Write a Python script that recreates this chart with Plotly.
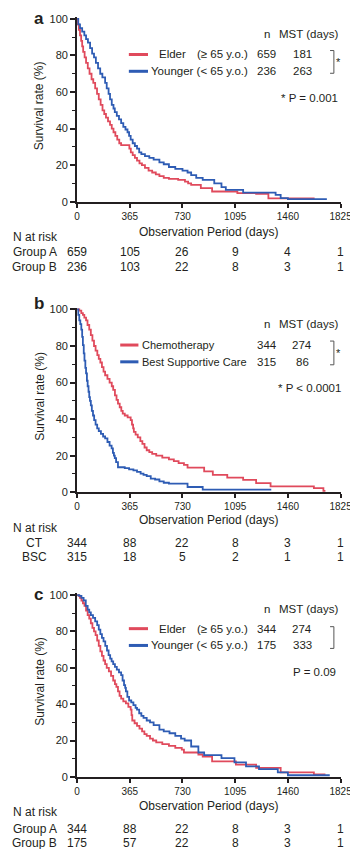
import plotly.graph_objects as go

# ---------------- data ----------------
x_ticks = [0, 365, 730, 1095, 1460, 1825]
y_ticks = [0, 20, 40, 60, 80, 100]

# Panel a
a_elder_days = [0, 5, 12, 20, 28, 35, 42, 52, 62, 74, 86, 100, 112, 125, 138, 150, 163, 176, 188, 200, 214, 228, 240, 252, 265, 278, 292, 305, 362, 372, 385, 400, 415, 432, 449, 470, 495, 520, 545, 570, 600, 636, 700, 747, 769, 790, 857, 935, 1110, 1240, 1325, 1645]
a_elder_surv = [100, 97, 94, 91, 88, 85, 82, 79, 76, 73, 70, 67, 65, 62, 59, 56, 53, 50, 48, 46, 44, 42, 40, 38, 36, 34, 32, 31, 29, 27, 25.5, 24, 22.5, 21, 20, 18.5, 17, 16, 15, 14, 13, 12.5, 12, 11, 10, 9.2, 7.4, 5.6, 4.7, 4.3, 1.8, 1.8]
a_young_days = [0, 8, 20, 35, 50, 62, 75, 90, 104, 117, 130, 145, 160, 175, 194, 205, 218, 228, 240, 252, 261, 275, 290, 305, 320, 335, 349, 360, 371, 385, 400, 415, 430, 445, 470, 500, 530, 570, 600, 636, 680, 730, 765, 790, 825, 870, 950, 1000, 1030, 1150, 1375, 1410, 1460, 1730]
a_young_surv = [100, 97, 95, 93, 91, 89, 87, 84, 81, 79, 76, 73, 70, 68, 65, 62, 59, 56, 53, 51, 49, 47, 45, 43, 41, 39.5, 38, 36, 34, 32, 30.5, 29, 27, 26, 25, 24, 23, 21.5, 20.5, 19, 18, 17, 16, 14.6, 13, 12, 10, 8, 6.5, 5, 3.8, 2, 1.4, 1.4]

# Panel b
b_chemo_days = [0, 15, 29, 40, 50, 62, 72, 84, 95, 106, 117, 128, 140, 150, 161, 172, 183, 194, 210, 225, 240, 250, 262, 273, 283, 295, 306, 316, 330, 350, 371, 380, 388, 393, 405, 420, 438, 452, 467, 482, 500, 520, 548, 590, 636, 670, 703, 740, 765, 880, 940, 1040, 1150, 1240, 1340, 1640, 1706, 1720]
b_chemo_surv = [100, 99.4, 98, 97, 95.5, 94, 91.5, 89, 86, 83, 80, 77.5, 75, 73, 71, 68.5, 66, 64, 62, 60, 58, 56, 53, 50.5, 48.5, 46.5, 44.5, 43, 42, 41, 39.5, 37, 35, 33, 31.5, 30, 28, 26.5, 24.5, 23, 22, 21, 20, 19, 18, 17, 16, 15, 13.5, 11.4, 9.5, 8, 6.8, 5, 3.2, 2.3, 0.8, 0.8]
b_bsc_days = [0, 8, 15, 22, 29, 35, 40, 46, 51, 57, 62, 68, 73, 79, 84, 89, 95, 102, 110, 118, 128, 139, 150, 165, 180, 194, 210, 225, 239, 248, 255, 261, 270, 283, 330, 360, 390, 415, 440, 460, 482, 510, 540, 570, 600, 636, 765, 870, 1345]
b_bsc_surv = [100, 97, 94, 92, 89, 85, 80.5, 76, 72, 68, 65, 61, 58, 55, 52, 50, 47.5, 44.5, 42, 39.5, 37, 35, 33.5, 32, 30.5, 29.5, 27.5, 25.5, 24, 21.5, 20, 18.7, 16.5, 13.7, 13.2, 12.5, 12, 11.2, 10.2, 9.5, 8.8, 7.5, 7, 6, 5.2, 4.7, 2.9, 1.4, 1.4]

# Panel c
c_elder_days = [0, 10, 20, 30, 40, 51, 62, 73, 84, 95, 106, 117, 128, 139, 150, 161, 172, 183, 194, 205, 220, 235, 250, 262, 272, 283, 294, 305, 320, 338, 355, 371, 377, 382, 398, 415, 432, 450, 466, 482, 505, 525, 548, 590, 636, 680, 725, 740, 840, 870, 935, 1100, 1240, 1410, 1640, 1720]
c_elder_surv = [100, 99.5, 98.5, 97, 95.5, 94, 91.5, 89, 87, 84.5, 82, 80, 78, 75, 72, 69, 66.5, 64, 62, 60, 58, 55.5, 53, 51, 49.5, 47, 44.5, 43, 41.5, 40.4, 38.5, 37, 34, 31, 29.5, 28, 26.5, 25, 23.5, 22.5, 21, 20, 19, 18, 17, 16, 15, 13.4, 12.3, 11.2, 8.5, 6.7, 4.9, 2.5, 1.3, 1.3]
c_young_days = [0, 15, 30, 45, 60, 73, 84, 95, 110, 125, 139, 150, 161, 172, 183, 195, 207, 218, 229, 239, 250, 262, 275, 290, 305, 315, 325, 333, 338, 348, 360, 375, 390, 405, 415, 430, 445, 460, 482, 505, 530, 570, 600, 640, 680, 720, 745, 790, 840, 880, 1000, 1090, 1170, 1260, 1390, 1460, 1750]
c_young_surv = [100, 99.5, 98.5, 97, 94, 92, 90.5, 89, 87.5, 85.5, 83.5, 81, 78.5, 76.5, 74.5, 72, 69.5, 67, 65, 63.5, 62, 60.5, 59, 57.5, 56, 53, 50.5, 49, 47, 44, 42, 41, 39.5, 38, 37, 35, 33.5, 32.5, 31, 30, 28.5, 26, 25, 24, 22.5, 21, 20, 16.7, 13.4, 12, 10.3, 8, 5.8, 4.3, 2.5, 0.9, 0.9]

# Legend tables
a_groups = ["Elder", "Younger"]
a_ages = ["(\u2265 65 y.o.)", "(< 65 y.o.)"]
a_n = ["659", "236"]
a_mst = ["181", "263"]
a_p = "* P = 0.001"
b_groups = ["Chemotherapy", "Best Supportive Care"]
b_n = ["344", "315"]
b_mst = ["274", "86"]
b_p = "* P < 0.0001"
c_groups = ["Elder", "Younger"]
c_ages = ["(\u2265 65 y.o.)", "(< 65 y.o.)"]
c_n = ["344", "175"]
c_mst = ["274", "333"]
c_p = "P = 0.09"

# Numbers at risk
a_risk_labels = ["Group A", "Group B"]
a_risk = [[659, 105, 26, 9, 4, 1], [236, 103, 22, 8, 3, 1]]
b_risk_labels = ["CT", "BSC"]
b_risk = [[344, 88, 22, 8, 3, 1], [315, 18, 5, 2, 1, 1]]
c_risk_labels = ["Group A", "Group B"]
c_risk = [[344, 88, 22, 8, 3, 1], [175, 57, 22, 8, 3, 1]]

# ---------------- styling ----------------
W, H = 358, 849
RED = "#E04A5C"
BLUE = "#2E5CB4"
INK = "#231f20"
FONT = "Liberation Sans, Arial, sans-serif"
LEG = 11.5


def px(x):
    return x / W


def py(y):
    return 1 - y / H


fig = go.Figure()
annotations = []
shapes = []


def txt(x, y, s, size=12, xanchor="center", bold=False, xref="paper", angle=0):
    annotations.append(dict(
        x=x if xref != "paper" else px(x), y=py(y), xref=xref, yref="paper",
        text=("<b>%s</b>" % s) if bold else s, showarrow=False,
        xanchor=xanchor, yanchor="middle", textangle=angle,
        font=dict(family=FONT, size=size, color=INK)))


def hline(x0, x1, y, color, width=3):
    shapes.append(dict(type="line", xref="paper", yref="paper",
                       x0=px(x0), x1=px(x1), y0=py(y), y1=py(y),
                       line=dict(color=color, width=width)))


def bracket(x, y0, y1):
    shapes.append(dict(type="path", xref="paper", yref="paper",
                       path="M %f %f L %f %f L %f %f L %f %f" % (
                           px(x - 4), py(y0), px(x), py(y0), px(x), py(y1), px(x - 4), py(y1)),
                       line=dict(color="#555", width=1)))


panels = [
    dict(letter="a", ly=7, zero=192, k=1.85,
         curves=[(a_elder_days, a_elder_surv, RED), (a_young_days, a_young_surv, BLUE)],
         tick_y=203.5, title_y=222.5, nrisk_y=228, rows_y=[243, 258],
         risk_labels=a_risk_labels, risk=a_risk,
         head_y=22, leg_y=[43, 60], bracket=(337, 39, 62), star=True,
         p=a_p, p_x=343, p_y=87, kind="age", groups=a_groups, ages=a_ages, n=a_n, mst=a_mst),
    dict(letter="b", ly=295, zero=486, k=1.85,
         curves=[(b_chemo_days, b_chemo_surv, RED), (b_bsc_days, b_bsc_surv, BLUE)],
         tick_y=498, title_y=514, nrisk_y=522, rows_y=[537, 552],
         risk_labels=b_risk_labels, risk=b_risk,
         head_y=316, leg_y=[337, 354], bracket=(337, 333, 357), star=True,
         p=b_p, p_x=347, p_y=380, kind="tx", groups=b_groups, n=b_n, mst=b_mst),
    dict(letter="c", ly=589, zero=774, k=1.84,
         curves=[(c_elder_days, c_elder_surv, RED), (c_young_days, c_young_surv, BLUE)],
         tick_y=785, title_y=803, nrisk_y=810, rows_y=[827, 841],
         risk_labels=c_risk_labels, risk=c_risk,
         head_y=604, leg_y=[624, 641], bracket=(337, 622, 644), star=False,
         p=c_p, p_x=341, p_y=668, kind="age", groups=c_groups, ages=c_ages, n=c_n, mst=c_mst),
]

layout_axes = {}
for i, P in enumerate(panels, start=1):
    xa = "x" if i == 1 else "x%d" % i
    ya = "y" if i == 1 else "y%d" % i
    top = P["zero"] - P["k"] * 101
    for days, surv, col in P["curves"]:
        fig.add_trace(go.Scatter(x=days, y=surv, mode="lines", line_shape="hv",
                                 line=dict(color=col, width=1.8), xaxis=xa, yaxis=ya,
                                 showlegend=False, hoverinfo="skip"))
    layout_axes["xaxis" if i == 1 else "xaxis%d" % i] = dict(
        domain=[px(69), px(344)], anchor=ya, range=[0, 1825],
        tickvals=x_ticks, ticktext=[str(v) for v in x_ticks],
        ticks="outside", ticklen=4, tickwidth=2, tickcolor=INK,
        showline=True, linewidth=2, linecolor=INK, showgrid=False, zeroline=False,
        tickfont=dict(family=FONT, size=10, color=INK), fixedrange=True)
    layout_axes["yaxis" if i == 1 else "yaxis%d" % i] = dict(
        domain=[py(P["zero"]), py(top)], anchor=xa, range=[0, 101],
        tickvals=y_ticks, ticks="outside", ticklen=5, tickwidth=1.5, tickcolor=INK,
        minor=dict(dtick=10, tick0=0, ticks="outside", ticklen=3, tickwidth=1, tickcolor=INK),
        showline=True, linewidth=2, linecolor=INK, showgrid=False, zeroline=False,
        tickfont=dict(family=FONT, size=11, color=INK), fixedrange=True)

    # panel letter and axis titles
    txt(29, P["ly"], P["letter"], size=17, bold=True)
    txt(30, (P["zero"] + top) / 2 - 4, "Survival rate (%)", size=12, angle=-90)
    txt(206, P["title_y"], "Observation Period (days)", size=12)

    # numbers at risk
    txt(0, P["nrisk_y"], "N at risk", size=12, xanchor="left")
    for lab, row, yy in zip(P["risk_labels"], P["risk"], P["rows_y"]):
        txt(25, yy, lab, size=12)
        for xv, v in zip(x_ticks, row):
            annotations.append(dict(x=xv, y=py(yy), xref=xa, yref="paper", text=str(v),
                                    showarrow=False, xanchor="center", yanchor="middle",
                                    font=dict(family=FONT, size=12, color=INK)))

    # legend table
    txt(267, P["head_y"], "n", size=LEG)
    txt(311, P["head_y"], "MST (days)", size=LEG)
    cols = [RED, BLUE]
    for j in range(2):
        yy = P["leg_y"][j]
        if P["kind"] == "age":
            hline(123, 143, yy, cols[j])
            if j == 0:
                txt(152, yy, P["groups"][0], size=LEG, xanchor="left")
                txt(192, yy, P["ages"][0], size=LEG, xanchor="left")
            else:
                txt(144, yy, P["groups"][1] + " " + P["ages"][1], size=LEG, xanchor="left")
        else:
            hline(114, 133, yy, cols[j])
            txt(135, yy, P["groups"][j], size=11, xanchor="left")
        txt(267, yy, P["n"][j], size=LEG)
        txt(304, yy, P["mst"][j], size=LEG)
    bx, by0, by1 = P["bracket"]
    bracket(bx, by0, by1)
    if P["star"]:
        txt(342, (by0 + by1) / 2, "*", size=11)
    txt(P["p_x"], P["p_y"], P["p"], size=LEG, xanchor="right")

fig.update_layout(
    width=W, height=H, margin=dict(l=0, r=0, t=0, b=0),
    paper_bgcolor="white", plot_bgcolor="white",
    annotations=annotations, shapes=shapes, showlegend=False,
    font=dict(family=FONT, color=INK), **layout_axes)

fig.write_html("out.html", config={"displayModeBar": False})
